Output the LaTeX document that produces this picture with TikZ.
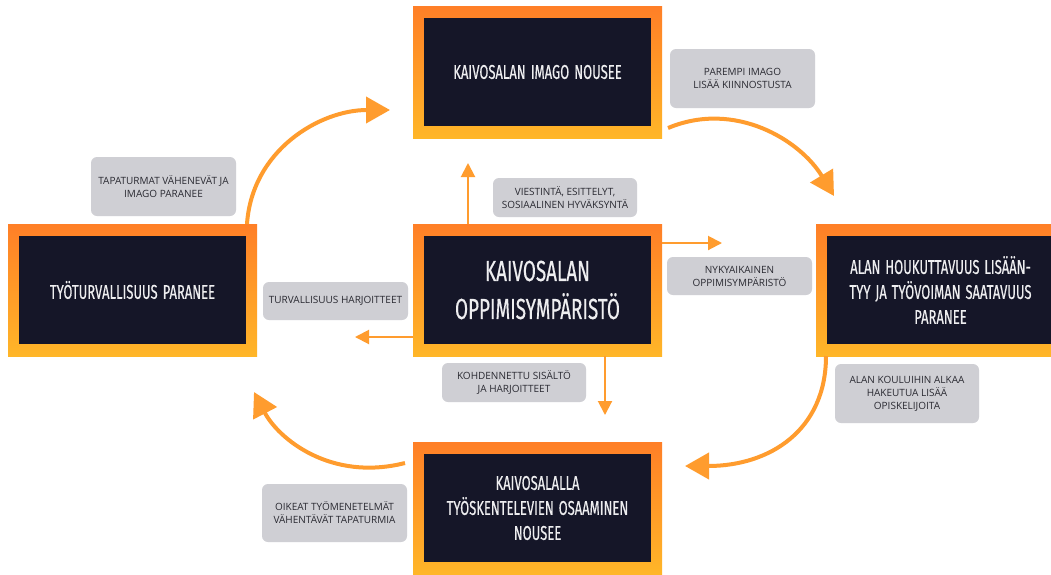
\documentclass[tikz,border=0pt]{standalone}
\usepackage{fontspec}
\setmainfont{Open Sans}
\newfontfamily\boxfont[FakeStretch=0.65,FakeBold=0.4]{Fira Sans}
\usetikzlibrary{arrows.meta}
\definecolor{dark}{HTML}{151628}
\definecolor{otop}{HTML}{FF7F27}
\definecolor{obot}{HTML}{FFB628}
\definecolor{lblgray}{HTML}{CFCFD4}
\definecolor{lbltext}{HTML}{2A2A32}
\definecolor{arrorange}{HTML}{FF9C2E}
\definecolor{boxtext}{HTML}{EEEEF0}
\newcommand\narrowspace{\spaceskip=4.5pt plus 1pt minus 1pt\relax}
\begin{document}
\begin{tikzpicture}[x=1pt,y=-1pt,
 frame/.style={rectangle, minimum width=249pt, minimum height=132pt, inner sep=0pt, outer sep=0pt, top color=otop, bottom color=obot, draw=none},
 panel/.style={rectangle, minimum width=227pt, minimum height=108pt, inner sep=0pt, fill=dark, text=boxtext, font=\boxfont\fontsize{20}{25}\selectfont, align=center, text width=215pt, execute at begin node=\narrowspace},
 bigpanel/.style={panel, font=\boxfont\fontsize{29}{38}\selectfont},
 lbl/.style={rectangle, rounded corners=6pt, fill=lblgray, text=lbltext, font=\fontsize{10}{13}\selectfont, align=center, inner sep=0pt},
 link/.style={draw=arrorange, line width=2pt, -{Triangle[length=14pt,width=14pt]}},
 loopar/.style={draw=arrorange, line width=4pt, -{Triangle[length=24pt,width=26pt]}}]
\path[use as bounding box] (0,0) rectangle (1051,574);
\clip (0,0) rectangle (1051,574);
\fill[white] (0,0) rectangle (1051,574);

% main boxes
\node[frame] (T) at (537.5,72) {};
\node[panel] (Ti) at (T.center) {KAIVOSALAN IMAGO NOUSEE};
\node[frame] (C) at (537.5,290) {};
\node[bigpanel] (Ci) at (C.center) {KAIVOSALAN\\OPPIMISYMPÄRISTÖ};
\node[frame] (L) at (132.5,290) {};
\node[panel] (Li) at (L.center) {TYÖTURVALLISUUS PARANEE};
\node[frame] (R) at (940.5,290) {};
\node[panel] (Ri) at (R.center) {ALAN HOUKUTTAVUUS LISÄÄN-\\TYY JA TYÖVOIMAN SAATAVUUS\\PARANEE};
\node[frame] (B) at (537.5,508) {};
\node[panel] (Bi) at (B.center) {KAIVOSALALLA\\TYÖSKENTELEVIEN OSAAMINEN\\NOUSEE};

% labels
\node[lbl, minimum width=145pt, minimum height=59pt] (pm) at (742.5,78.5) {PAREMPI IMAGO\\LISÄÄ KIINNOSTUSTA};
\node[lbl, minimum width=145pt, minimum height=59pt] (tv) at (163.5,186.5) {TAPATURMAT VÄHENEVÄT JA\\IMAGO PARANEE};
\node[lbl, minimum width=144pt, minimum height=39pt] (vi) at (565,197.5) {VIESTINTÄ, ESITTELYT,\\SOSIAALINEN HYVÄKSYNTÄ};
\node[lbl, minimum width=145pt, minimum height=38pt] (th) at (335.5,301) {TURVALLISUUS HARJOITTEET};
\node[lbl, minimum width=145pt, minimum height=38pt] (ny) at (739.5,276) {NYKYAIKAINEN\\OPPIMISYMPÄRISTÖ};
\node[lbl, minimum width=144pt, minimum height=39pt] (ko) at (514,382.5) {KOHDENNETTU SISÄLTÖ\\JA HARJOITTEET};
\node[lbl, minimum width=144pt, minimum height=59pt] (ak) at (907,393.5) {ALAN KOULUIHIN ALKAA\\HAKEUTUA LISÄÄ\\OPISKELIJOITA};
\node[lbl, minimum width=145pt, minimum height=58pt] (oi) at (334.5,513) {OIKEAT TYÖMENETELMÄT\\VÄHENTÄVÄT TAPATURMIA};

% straight arrows from the centre
\coordinate (upend) at (468,163);
\draw[link] (C.north -| upend) -- (upend);
\coordinate (rightend) at (722,243);
\draw[link] (C.east |- rightend) -- (rightend);
\coordinate (leftend) at (355,337);
\draw[link] (C.west |- leftend) -- (leftend);
\coordinate (downend) at (605,415);
\draw[link] (C.south -| downend) -- (downend);

% cycle arrows
\coordinate (a1) at (390,110);
\draw[loopar] ([xshift=-10pt]L.north east) .. controls (252,150) and (320,110) .. (a1);
\coordinate (a2) at (834,196);
\draw[loopar] ([xshift=6pt,yshift=10pt]T.south east) .. controls (735,100) and (800,140) .. (a2);
\coordinate (a3) at (685,466);
\draw[loopar] ([xshift=10pt]R.south west) .. controls (826,430) and (770,466) .. (a3);
\coordinate (a4) at (254,392);
\draw[loopar] ([xshift=-8pt,yshift=45pt]B.west) .. controls (330,482) and (278,438) .. (a4);
\end{tikzpicture}
\end{document}
